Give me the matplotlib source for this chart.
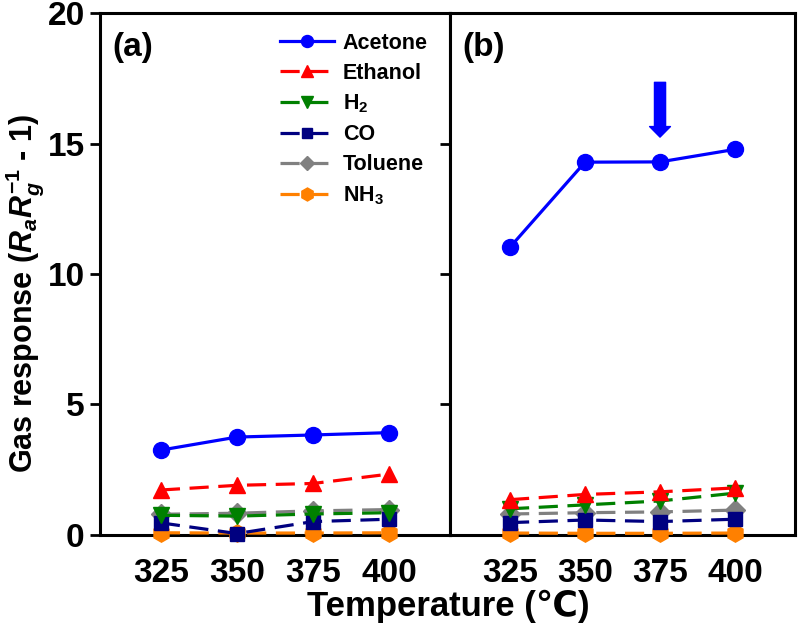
import matplotlib
matplotlib.use("Agg")
import matplotlib.pyplot as plt

plt.rcParams["font.family"] = ["Liberation Sans", "DejaVu Sans"]
plt.rcParams["font.weight"] = "bold"
plt.rcParams["mathtext.fontset"] = "custom"
plt.rcParams["mathtext.rm"] = "Liberation Sans:bold"
plt.rcParams["mathtext.it"] = "Liberation Sans:italic:bold"
plt.rcParams["mathtext.bf"] = "Liberation Sans:bold"

# Data
temps = [325, 350, 375, 400]
gases = ["Acetone", "Ethanol", "H$_2$", "CO", "Toluene", "NH$_3$"]

a_acetone = [3.25, 3.75, 3.83, 3.92]
a_ethanol = [1.72, 1.9, 1.97, 2.33]
a_h2 = [0.75, 0.72, 0.8, 0.85]
a_co = [0.46, 0.05, 0.51, 0.6]
a_toluene = [0.79, 0.83, 0.92, 0.97]
a_nh3 = [0.08, 0.07, 0.07, 0.08]

b_acetone = [11.03, 14.29, 14.3, 14.78]
b_ethanol = [1.35, 1.55, 1.65, 1.8]
b_h2 = [1.0, 1.15, 1.3, 1.6]
b_co = [0.47, 0.57, 0.51, 0.6]
b_toluene = [0.8, 0.85, 0.88, 0.95]
b_nh3 = [0.07, 0.06, 0.06, 0.07]

panel_a = [a_acetone, a_ethanol, a_h2, a_co, a_toluene, a_nh3]
panel_b = [b_acetone, b_ethanol, b_h2, b_co, b_toluene, b_nh3]

colors = ["#0000ff", "#ff0000", "#008000", "#000080", "#808080", "#ff8000"]
markers = ["o", "^", "v", "s", "D", "h"]
dash = (0, (6, 3))
styles = ["-", dash, dash, dash, dash, dash]
msizes = [11.5, 12, 12, 10, 10, 12.5]

fig = plt.figure(figsize=(8, 6.3), dpi=100)
ax_a = fig.add_axes([0.125, 0.151, 0.4375, 0.828])
ax_b = fig.add_axes([0.5625, 0.151, 0.4313, 0.828])

for ax, series, tag in [(ax_a, panel_a, "(a)"), (ax_b, panel_b, "(b)")]:
    # draw back to front so acetone ends on top
    for i in reversed(range(len(gases))):
        ax.plot(temps, series[i], color=colors[i], marker=markers[i],
                linestyle=styles[i], linewidth=2.3, markersize=msizes[i],
                label=gases[i], clip_on=False, zorder=3 + (len(gases) - i) * 0.01)
    ax.set_xlim(305, 420)
    ax.set_ylim(0, 20)
    ax.set_xticks(temps)
    ax.set_yticks([0, 5, 10, 15, 20])
    ax.tick_params(axis="x", direction="out", length=4, width=2, labelsize=24, pad=13)
    ax.tick_params(axis="y", direction="out", length=7, width=2, labelsize=24, pad=4)
    for sp in ax.spines.values():
        sp.set_linewidth(2.2)
    ax.text(0.035, 0.935, tag, transform=ax.transAxes, fontsize=24,
            fontweight="bold", va="center")

ax_b.set_yticklabels([])

# arrow marking the optimal temperature
ax_b.annotate("", xy=(375, 15.25), xytext=(375, 17.35),
              arrowprops=dict(arrowstyle="simple,head_length=0.38,head_width=0.75,tail_width=0.4",
                              color="#0000ff", mutation_scale=20, shrinkA=0, shrinkB=0))

handles, labels = ax_a.get_legend_handles_labels()
ax_a.legend(handles[::-1], labels[::-1], loc="upper left", bbox_to_anchor=(0.46, 1.0),
            frameon=False, handlelength=2.5, labelspacing=0.42,
            handletextpad=0.4, markerscale=0.75,
            prop={"weight": "bold", "size": 15.5})

ax_a.set_ylabel("Gas response ($R_aR_g^{-1}$ - 1)", fontsize=22, fontweight="bold")
ax_a.yaxis.set_label_coords(-0.155, 0.462)
fig.text(0.56, 0.037, "Temperature (\u2103)", ha="center", va="center",
         fontsize=25, fontweight="bold")

fig.savefig("out.png", dpi=100)
